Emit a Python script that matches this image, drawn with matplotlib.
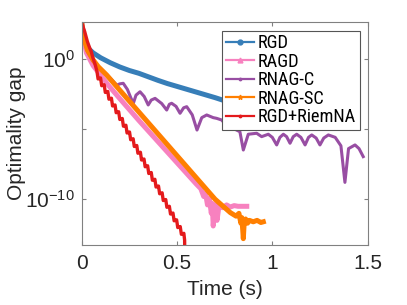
import numpy as np
import matplotlib.pyplot as plt
from matplotlib import font_manager
from matplotlib.lines import Line2D

plt.rcParams['font.family'] = ['Liberation Sans', 'DejaVu Sans']
plt.rcParams['mathtext.fontset'] = 'custom'
plt.rcParams['mathtext.rm'] = 'Liberation Sans'
plt.rcParams['mathtext.default'] = 'regular'

# values: time (s) and log10 of optimality gap
rgd_t = [0, 0.01, 0.025, 0.04, 0.06, 0.1, 0.15, 0.2, 0.25, 0.3, 0.35, 0.4, 0.45,
         0.5, 0.55, 0.6, 0.65, 0.7, 0.75, 0.8, 0.9, 1.0]
rgd_log = [2.55, 1.6, 1.0, 0.65, 0.4, 0.05, -0.3, -0.6, -0.85, -1.05, -1.3, -1.55, -1.78,
           -1.98, -2.18, -2.38, -2.58, -2.78, -3.0, -3.2, -3.5, -3.8]

ragd_t = [0, 0.01, 0.025, 0.06, 0.1, 0.14, 0.2, 0.3, 0.4, 0.5, 0.6, 0.625, 0.64, 0.65,
          0.66, 0.67, 0.68, 0.685, 0.69, 0.70, 0.71, 0.72, 0.74, 0.76, 0.78, 0.80,
          0.82, 0.84, 0.866]
ragd_log = [2.55, 1.4, 0.4, -0.5, -1.2, -1.9, -2.85, -4.4, -5.9, -7.4, -8.9, -9.25, -9.8, -9.6,
            -10.4, -9.95, -11.0, -10.3, -11.9, -10.4, -11.5, -10.5, -10.6, -10.4, -10.55, -10.45,
            -10.5, -10.5, -10.5]

rnagc_t = [0, 0.01, 0.03, 0.06, 0.09, 0.113, 0.15, 0.184, 0.2, 0.218, 0.24, 0.258, 0.271,
           0.285, 0.306, 0.328, 0.349, 0.365, 0.385, 0.42, 0.446, 0.46, 0.472, 0.495, 0.516,
           0.535, 0.551, 0.58, 0.605, 0.63, 0.656, 0.69, 0.708, 0.735, 0.76, 0.8, 0.83, 0.848,
           0.874, 0.918, 0.944, 0.979, 1.0, 1.023, 1.04, 1.058, 1.075, 1.093, 1.11, 1.128,
           1.15, 1.172, 1.19, 1.207, 1.23, 1.25, 1.27, 1.294, 1.33, 1.36, 1.381, 1.40, 1.434,
           1.455, 1.477]
rnagc_log = [2.55, 1.5, 0.5, -0.2, -0.6, -0.94, -1.4, -1.89, -1.8, -1.76, -2.2, -2.8, -3.18,
             -2.6, -2.36, -2.7, -3.3, -2.95, -2.83, -3.2, -3.66, -3.25, -3.18, -3.4, -3.89,
             -3.5, -3.42, -4.0, -5.08, -4.2, -4.01, -4.2, -4.25, -4.37, -4.8, -5.0, -5.2, -6.5,
             -5.38, -5.31, -5.55, -5.38, -5.6, -6.14, -5.6, -5.38, -5.55, -6.02, -5.55, -5.38,
             -5.6, -6.14, -5.6, -5.43, -5.65, -6.14, -5.65, -5.43, -5.6, -6.2, -8.8, -6.4, -6.14,
             -6.4, -6.97]

rnagsc_t = [0, 0.01, 0.03, 0.06, 0.087, 0.131, 0.2, 0.3, 0.4, 0.5, 0.6, 0.7, 0.78, 0.81,
            0.825, 0.835, 0.84, 0.845, 0.848, 0.852, 0.86, 0.87, 0.88, 0.9, 0.92, 0.94, 0.953]
rnagsc_log = [2.55, 1.5, 0.6, -0.1, -0.58, -1.17, -2.25, -3.8, -5.35, -6.9, -8.45, -10.0,
              -10.95, -11.2, -11.0, -11.7, -11.3, -12.2, -12.8, -11.8, -11.4, -11.7, -11.5,
              -11.6, -11.5, -11.65, -11.6]

riemna_t = [0, 0.016, 0.03, 0.042, 0.05, 0.059, 0.07,
            0.080, 0.086, 0.099, 0.105, 0.118, 0.124, 0.137, 0.143, 0.156, 0.162,
            0.175, 0.181, 0.194, 0.200, 0.213, 0.219, 0.232, 0.238, 0.251, 0.257,
            0.270, 0.276, 0.289, 0.295, 0.308, 0.314, 0.327, 0.333, 0.346, 0.352,
            0.365, 0.371, 0.384, 0.390, 0.403, 0.409, 0.422, 0.428, 0.441, 0.447,
            0.460, 0.466, 0.479, 0.485, 0.498, 0.504, 0.517, 0.523, 0.536, 0.540, 0.541]
riemna_log = [2.55, 1.9, 1.2, 0.75, 0.5, 0.04, -0.4,
              -0.90, -1.45, -1.38, -1.93, -1.86, -2.41, -2.34, -2.89, -2.82, -3.37,
              -3.30, -3.85, -3.78, -4.33, -4.26, -4.81, -4.74, -5.29, -5.22, -5.77,
              -5.70, -6.25, -6.18, -6.73, -6.66, -7.21, -7.14, -7.69, -7.62, -8.17,
              -8.10, -8.65, -8.58, -9.13, -9.06, -9.61, -9.54, -10.09, -10.02, -10.57,
              -10.50, -11.05, -10.98, -11.53, -11.46, -12.01, -11.94, -12.49, -12.42, -12.9, -14.0]

names = ['RGD', 'RAGD', 'RNAG-C', 'RNAG-SC', 'RGD+RiemNA']
colors = ['#377eb8', '#f781bf', '#984ea3', '#ff7f00', '#e41a1c']
markers = ['o', '^', '.', '*', '.']
widths = [3.6, 3.6, 2.2, 3.6, 2.4]
series = [(rgd_t, rgd_log), (ragd_t, ragd_log), (rnagc_t, rnagc_log),
          (rnagsc_t, rnagsc_log), (riemna_t, riemna_log)]

# legend text in the reference is narrow; use a condensed face if one exists
installed = {f.name for f in font_manager.fontManager.ttflist}
leg_font = {'family': 'Liberation Sans', 'size': 11}
leg_space = 0.22
for name in ['Liberation Sans Narrow', 'Roboto Condensed', 'DejaVu Sans Condensed']:
    if name in installed:
        leg_font = {'family': name, 'size': 13.2}
        leg_space = 0.02
        break

fig = plt.figure(figsize=(4.07, 3.05), dpi=100)
ax = fig.add_axes([0.2007, 0.1967, 0.7025, 0.730])

for (t, lg), c, w in zip(series, colors, widths):
    ax.plot(t, 10.0 ** np.array(lg), color=c, lw=w, solid_joinstyle='round')

ax.set_yscale('log')
ax.set_xlim(0, 1.5)
ax.set_ylim(10 ** -13.25, 10 ** 2.57)
ax.set_xticks([0, 0.5, 1, 1.5])
ax.set_xticklabels(['0', '0.5', '1', '1.5'])
ax.set_yticks([1e0, 1e-5, 1e-10])
ax.set_yticklabels(['$10^{0}$', '', '$10^{-10}$'])
ax.yaxis.set_minor_locator(plt.NullLocator())

gray = '#808080'
for s in ax.spines.values():
    s.set_color(gray)
    s.set_linewidth(0.8)
ax.tick_params(axis='both', which='major', direction='in', length=3, width=0.8,
               color=gray, labelsize=15, labelcolor='#262626', top=True, right=True)
ax.tick_params(axis='x', pad=6.5)
ax.tick_params(axis='y', pad=5)

ax.set_xlabel('Time (s)', fontsize=15, color='#262626')
ax.set_ylabel('Optimality gap', fontsize=15, color='#262626')
ax.xaxis.set_label_coords(0.5, -0.155)
ax.yaxis.set_label_coords(-0.195, 0.5)

handles = [Line2D([], [], color=c, lw=1.6, marker=m, ms=3.5) for c, m in zip(colors, markers)]
leg = ax.legend(handles, names, loc='upper right', bbox_to_anchor=(0.973, 0.962),
                borderaxespad=0, labelspacing=leg_space, handlelength=1.55,
                handletextpad=0.2, borderpad=0.2, fancybox=False, framealpha=1,
                prop=leg_font)
leg.get_frame().set_edgecolor('#555555')
leg.get_frame().set_linewidth(0.8)

fig.savefig('out.png', dpi=100)
